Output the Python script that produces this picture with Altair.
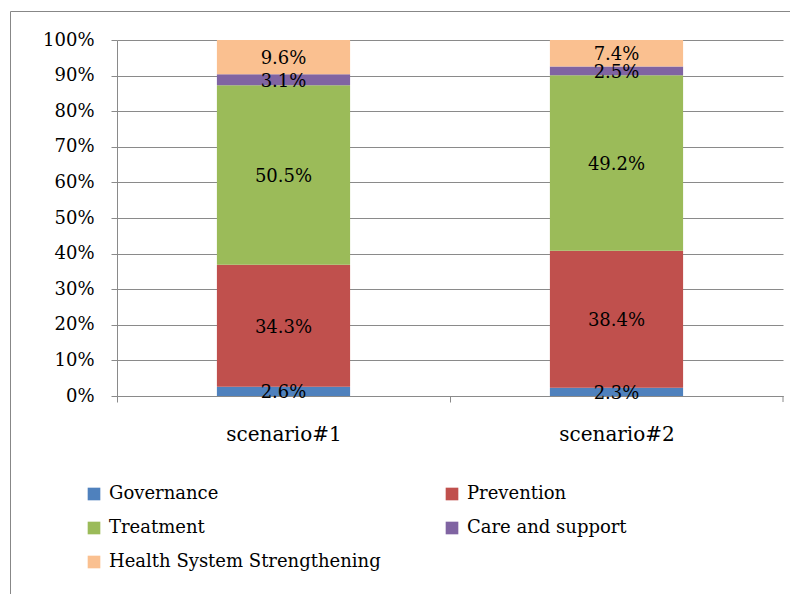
import altair as alt
import pandas as pd

scenarios = ["scenario#1", "scenario#2"]
categories = ["Governance", "Prevention", "Treatment", "Care and support", "Health System Strengthening"]
colors = ["#4F81BD", "#C0504D", "#9BBB59", "#8064A2", "#FAC090"]
scenario1 = [2.6, 34.3, 50.5, 3.1, 9.6]
scenario2 = [2.3, 38.4, 49.2, 2.5, 7.4]
y_ticks = [0, 0.1, 0.2, 0.3, 0.4, 0.5, 0.6, 0.7, 0.8, 0.9, 1.0]

rows = []
for s, vals in zip(scenarios, [scenario1, scenario2]):
    for i, (c, v) in enumerate(zip(categories, vals)):
        rows.append({"scenario": s, "category": c, "idx": i, "value": v, "label": f"{v:.1f}%"})
df = pd.DataFrame(rows)

# legend fills column by column: reorder so it reads row by row like the reference
legend_order = [0, 2, 4, 1, 3]
leg_domain = [categories[i] for i in legend_order]
leg_range = [colors[i] for i in legend_order]

FONT = "DejaVu Serif"
GRID = "#8a8a8a"

base = alt.Chart(df).transform_stack(
    stack="value", groupby=["scenario"], as_=["v0", "v1"], offset="normalize",
    sort=[alt.SortField("idx", order="ascending")]
).transform_calculate(mid="(datum.v0 + datum.v1) / 2")

xaxis = alt.Axis(labelAngle=0, tickOffset=-166.5, labelOffset=166.5, tickSize=6,
                 labelPadding=22, labelFontSize=20, domainColor=GRID, tickColor=GRID, grid=False)
yaxis = alt.Axis(values=y_ticks, format=".0%", tickSize=6, labelPadding=17, labelOverlap=False,
                 grid=True, gridColor=GRID, domainColor=GRID, tickColor=GRID)
yscale = alt.Scale(domain=[0, 1], nice=False)
xscale = alt.Scale(paddingInner=0.6, paddingOuter=0.3)

bars = base.mark_bar().encode(
    x=alt.X("scenario:N", sort=scenarios, title=None, scale=xscale, axis=xaxis),
    y=alt.Y("v0:Q", title=None, scale=yscale, axis=yaxis),
    y2="v1:Q",
    color=alt.Color("category:N",
                    scale=alt.Scale(domain=leg_domain, range=leg_range),
                    legend=alt.Legend(title=None, orient="none", legendX=-32, legendY=445,
                                      columns=2, columnPadding=62, rowPadding=16,
                                      symbolType="square", symbolSize=160, symbolStrokeWidth=0,
                                      labelOffset=6, labelLimit=400, direction="vertical")),
)

texts = base.mark_text(font=FONT, fontSize=18, color="black", baseline="middle", dy=2).encode(
    x=alt.X("scenario:N", sort=scenarios, title=None, scale=xscale, axis=xaxis),
    y=alt.Y("mid:Q", title=None, scale=yscale, axis=yaxis),
    text="label:N",
)

end_tick = alt.Chart(pd.DataFrame({"a": [0]})).mark_rule(color=GRID, strokeWidth=1).encode(
    x=alt.value(666), y=alt.value(356), y2=alt.value(362)
)

frame = alt.Chart(pd.DataFrame({"a": [0]})).mark_rect(
    fill="white", fillOpacity=0, stroke="#878787", strokeWidth=1
).encode(
    x=alt.value(-106.5), x2=alt.value(700), y=alt.value(-28.5), y2=alt.value(600)
)

chart = alt.layer(frame, bars, texts, end_tick).properties(
    width=666, height=356,
    autosize=alt.AutoSizeParams(type="none"),
    padding={"left": 117, "top": 40, "right": 7, "bottom": 198},
    background="white",
).configure_view(stroke=None).configure_axis(
    labelFont=FONT, labelFontSize=18, labelColor="black"
).configure_legend(
    labelFont=FONT, labelFontSize=18, labelColor="black"
)

chart.save("out.html", embed_options={"renderer": "svg", "actions": False})
